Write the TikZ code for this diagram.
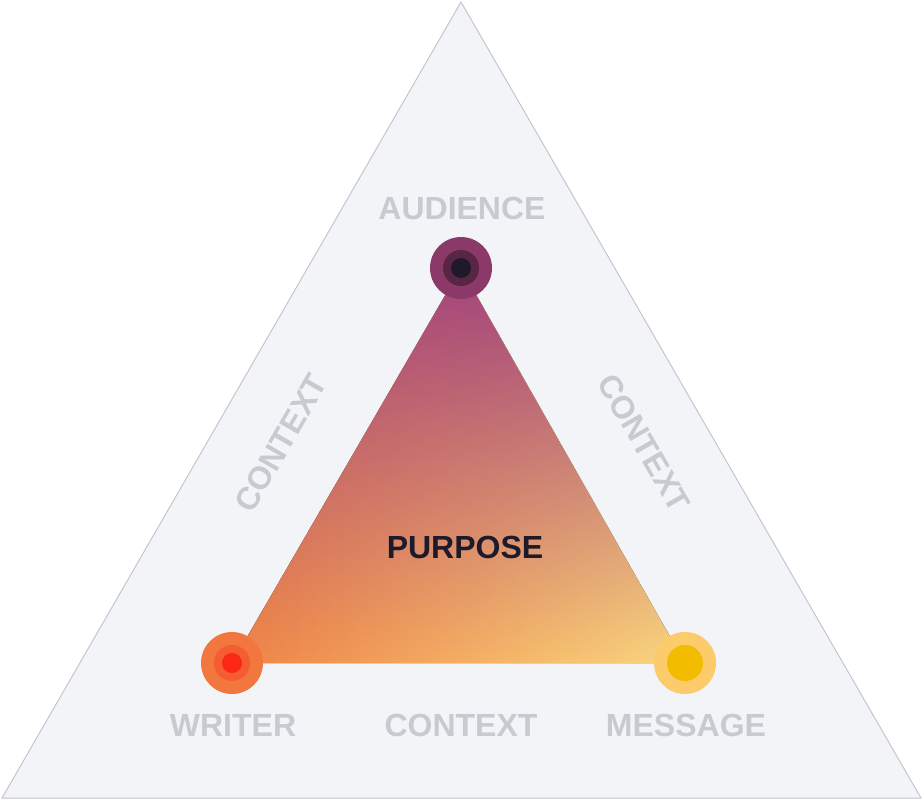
\documentclass[tikz,border=0pt]{standalone}
\usepackage{fontspec}
\setmainfont{Liberation Sans}
\usetikzlibrary{fadings,shadows}
\definecolor{paper}{HTML}{F3F4F8}
\definecolor{rim}{HTML}{C4C6CE}
\definecolor{faint}{HTML}{C9CACF}
\definecolor{ink}{HTML}{1E1A2A}
\definecolor{plum}{HTML}{A2437C}
\definecolor{tangerine}{HTML}{F08446}
\definecolor{butter}{HTML}{FAD87F}
\tikzset{
corner/.style={fill=#1, circle, minimum size=62pt, inner sep=0pt},
core/.style={fill=#1, circle, minimum size=36pt, inner sep=0pt},
dot/.style={fill=#1, circle, minimum size=20pt, inner sep=0pt},
tag/.style={text=faint, font=\fontsize{32}{32}\selectfont\bfseries}}
\begin{document}
\begin{tikzpicture}[x=1pt,y=-1pt]
\useasboundingbox (0,0) rectangle (923,800);
% outer triangle
\coordinate (top) at (461,2);
\coordinate (bl) at (2,798);
\coordinate (br) at (921,798);
\draw[rim, fill=paper, line width=1pt] (top) -- (bl) -- (br) -- cycle;
% inner triangle
\coordinate (aud) at (461,268);
\coordinate (wri) at (232,663);
\coordinate (msg) at (685,663);
\fill[left color=tangerine, right color=butter] (wri) -- (aud) -- (msg) -- cycle;
\fill[plum, path fading=south] (wri) -- (aud) -- (msg) -- cycle;
% corners
\node[corner=plum!85!black] (audc) at (aud) {};
\node[core=plum!55!black] at (aud) {};
\node[dot=ink] at (aud) {};
\node[corner=tangerine!90!red] (wric) at (wri) {};
\node[core=tangerine!70!red] at (wri) {};
\node[dot=red!70!tangerine] at (wri) {};
\node[corner=butter!85!orange] (msgc) at (msg) {};
\node[core=orange!45!yellow!95!black] at (msg) {};
% labels
\node[tag] (audience) at (462,208) {AUDIENCE};
\node[tag] (writer) at (233,725) {WRITER};
\node[tag] (ctxb) at (461,725) {CONTEXT};
\node[tag] (message) at (686,725) {MESSAGE};
\node[tag, rotate=60] (ctxl) at (281,443) {CONTEXT};
\node[tag, rotate=-60] (ctxr) at (644,443) {CONTEXT};
\node[text=ink, font=\fontsize{32}{32}\selectfont\bfseries] (purpose) at (465,547) {PURPOSE};
\end{tikzpicture}
\end{document}
